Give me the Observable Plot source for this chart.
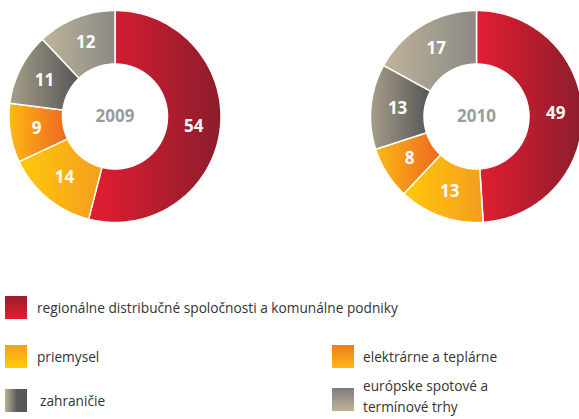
<!DOCTYPE html>
<html><head><meta charset="utf-8">
<script src="https://cdn.jsdelivr.net/npm/d3@7"></script>
<script src="https://cdn.jsdelivr.net/npm/@observablehq/plot@0.6"></script>
<style>
body{margin:0;background:#fff;}
#wrap{position:relative;width:579px;height:419px;overflow:hidden;font-family:"Open Sans",sans-serif;}
#chart{position:absolute;left:0;top:0;}
.sw{position:absolute;width:22px;height:23px;}
.lt{position:absolute;font-size:13.7px;color:#333;line-height:23px;white-space:nowrap;}
.lt2{line-height:21px;}
</style></head><body>
<div id="wrap"><div id="chart"></div><div id="legend"></div></div>
<script>
const categories = ["regionálne distribučné spoločnosti a komunálne podniky", "priemysel", "elektrárne a teplárne", "zahraničie", "európske spotové a termínové trhy"];
const years = ["2009", "2010"];
const values2009 = [54, 14, 9, 11, 12];
const values2010 = [49, 13, 8, 13, 17];

// horizontal gradients for slices [left, right]
const sliceGrad = [["#e41d31", "#8c1d2c"], ["#ffc90a", "#f59d1f"], ["#fcb914", "#ee6622"], ["#a69e88", "#565656"], ["#bfb499", "#8b8a85"]];
// legend swatch gradients (css)
const legendGrad = [
  "linear-gradient(to bottom,#9a1d2e,#e51c30)",
  "linear-gradient(to bottom,#f6a01c,#ffcc05)",
  "linear-gradient(to bottom,#f07c1f,#fcb816)",
  "linear-gradient(to right,#bdb296,#5a5a5a 55%,#555)",
  "linear-gradient(to bottom,#7c7c7c,#bfb497)"
];
const legendPos = [[5, 296], [5, 345], [332, 345], [5, 389], [332, 388]];
const legendTextPos = [[37, 296], [37, 345], [363, 345], [40, 389], [363, 375]];

const W = 579, H = 235, Rpx = 106;
const cxPx = [114.5, 476], cyPx = 116;
const innerR = 52.5 / Rpx;
const centersX = cxPx.map(c => (c - cxPx[0]) / Rpx);

const rows = [], labels = [], yearLabels = [];
years.forEach((yr, yi) => {
  const vals = yi ? values2010 : values2009;
  const total = d3.sum(vals);
  const cx = centersX[yi];
  let acc = 0;
  vals.forEach((v, i) => {
    const a0 = acc / total * 2 * Math.PI, a1 = (acc + v) / total * 2 * Math.PI;
    acc += v;
    const n = Math.max(2, Math.ceil((a1 - a0) / (Math.PI / 180)));
    const key = yr + "-" + i;
    for (let k = 0; k <= n; k++) {
      const a = a0 + (a1 - a0) * k / n;
      rows.push({key, x: cx + Math.sin(a), y: Math.cos(a), fill: `url(#sg${i})`});
    }
    for (let k = n; k >= 0; k--) {
      const a = a0 + (a1 - a0) * k / n;
      rows.push({key, x: cx + innerR * Math.sin(a), y: innerR * Math.cos(a), fill: `url(#sg${i})`});
    }
    const am = (a0 + a1) / 2, rm = (1 + innerR) / 2;
    labels.push({x: cx + rm * Math.sin(am), y: rm * Math.cos(am), text: String(v)});
  });
  yearLabels.push({x: cx, y: 0, text: yr});
});

const chart = Plot.plot({
  width: W, height: H,
  margin: 0,
  x: {domain: [-cxPx[0] / Rpx, (W - cxPx[0]) / Rpx], axis: null},
  y: {domain: [-(H - cyPx) / Rpx, cyPx / Rpx], axis: null},
  color: {type: "identity"},
  style: {fontFamily: "Open Sans, sans-serif", background: "white"},
  marks: [
    Plot.line(rows, {x: "x", y: "y", z: "key", fill: "fill", stroke: "white", strokeWidth: 1.5, curve: "linear-closed"}),
    Plot.text(labels, {x: "x", y: "y", text: "text", fill: "white", fontSize: 17, fontWeight: "bold"}),
    Plot.text(yearLabels, {x: "x", y: "y", text: "text", fill: "#9b9b9b", fontSize: 17, fontWeight: "bold"})
  ]
});
const defs = d3.select(chart).insert("defs", ":first-child");
sliceGrad.forEach((g, i) => {
  const lg = defs.append("linearGradient").attr("id", "sg" + i).attr("x1", "0").attr("x2", "1").attr("y1", "0").attr("y2", "0");
  lg.append("stop").attr("offset", "0").attr("stop-color", g[0]);
  lg.append("stop").attr("offset", "1").attr("stop-color", g[1]);
});
document.getElementById("chart").appendChild(chart);

const legend = document.getElementById("legend");
categories.forEach((c, i) => {
  const sw = document.createElement("div");
  sw.className = "sw";
  sw.style.left = legendPos[i][0] + "px";
  sw.style.top = legendPos[i][1] + "px";
  sw.style.background = legendGrad[i];
  legend.appendChild(sw);
  const t = document.createElement("div");
  t.className = "lt";
  t.style.left = legendTextPos[i][0] + "px";
  t.style.top = legendTextPos[i][1] + "px";
  if (i === 4) {
    t.classList.add("lt2");
    t.innerHTML = "európske spotové a<br>termínové trhy";
  } else {
    t.textContent = c;
  }
  legend.appendChild(t);
});
</script>
</body></html>
